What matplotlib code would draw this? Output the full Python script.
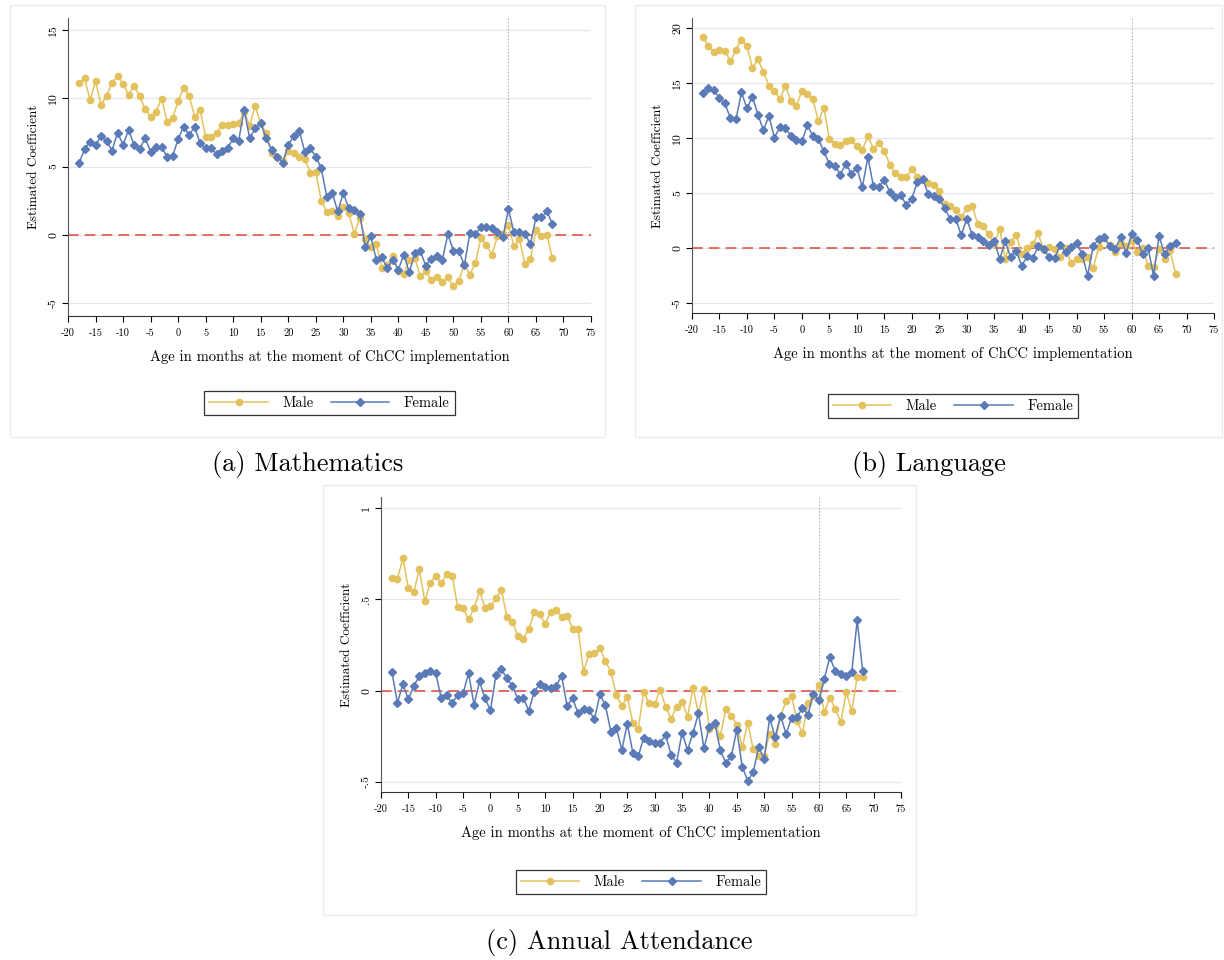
import matplotlib
matplotlib.use("Agg")
import matplotlib.pyplot as plt
from matplotlib.patches import Rectangle
from matplotlib.lines import Line2D

plt.rcParams['font.family'] = ['cmr10', 'DejaVu Serif']
plt.rcParams['axes.formatter.use_mathtext'] = True

# Data (age in months, -18 .. 68)
months = list(range(-18, 69))

math_male = [11.15, 11.46, 9.88, 11.24, 9.51, 10.17, 11.15, 11.63, 11.05, 10.27,
             10.93, 10.17, 9.24, 8.66, 9.02, 9.98, 8.29, 8.54, 9.78, 10.78,
             10.2, 8.66, 9.15, 7.15, 7.15, 7.44, 8.05, 8.02, 8.12, 8.17,
             9.0, 8.0, 9.44, 8.17, 7.44, 6.02, 5.73, 5.37, 6.15, 6.02,
             5.73, 5.56, 4.56, 4.59, 2.51, 1.66, 1.76, 1.39, 2.07, 1.63,
             0.07, 1.22, -0.3, -0.93, -0.66, -2.44, -2.2, -1.54, -2.68, -2.85,
             -1.83, -1.7, -3.05, -2.68, -3.29, -3.1, -3.49, -3.12, -3.78, -3.37,
             -2.15, -2.93, -2.07, -0.24, -0.78, -1.46, -0.12, 0.05, 0.73, -0.85,
             -0.32, -2.15, -1.78, 0.37, -0.07, -0.02, -1.71]
math_female = [5.24, 6.27, 6.83, 6.59, 7.2, 6.9, 6.17, 7.49, 6.59, 7.68,
               6.59, 6.27, 7.07, 6.1, 6.41, 6.41, 5.73, 5.78, 7.0, 7.93,
               7.32, 7.88, 6.71, 6.34, 6.34, 5.9, 6.17, 6.34, 7.07, 6.9,
               9.15, 7.07, 7.8, 8.17, 7.07, 6.22, 5.73, 5.29, 6.59, 7.2,
               7.63, 6.1, 6.34, 5.73, 4.88, 2.8, 3.05, 1.71, 3.05, 1.95,
               1.83, 1.54, -0.93, -0.12, -1.83, -1.66, -2.44, -1.83, -2.56, -1.46,
               -2.76, -1.34, -1.22, -2.27, -1.76, -1.59, -1.83, 0.05, -1.17, -1.22,
               -2.24, 0.12, 0.05, 0.54, 0.54, 0.49, 0.24, -0.17, 1.9, 0.17,
               0.17, 0.07, -0.68, 1.27, 1.27, 1.71, 0.78]

lang_male = [19.15, 18.38, 17.77, 18.02, 17.93, 16.95, 18.02, 18.93, 18.38, 16.34,
             17.16, 15.98, 14.76, 14.27, 13.54, 14.76, 13.35, 12.9, 14.27, 13.96,
             13.5, 11.52, 12.74, 9.94, 9.48, 9.33, 9.7, 9.85, 9.27, 8.93,
             10.15, 9.02, 9.54, 8.81, 7.59, 6.8, 6.43, 6.43, 7.2, 6.5,
             6.2, 5.9, 5.76, 5.2, 4.0, 3.79, 3.48, 2.79, 3.6, 3.85,
             2.18, 1.97, 1.27, 0.4, 1.73, -1.0, 0.58, 1.18, -0.55, 0.0,
             0.36, 1.33, -0.18, 0.06, -0.1, -0.85, 0.0, -1.39, -1.0, -1.0,
             -0.85, -1.85, 0.06, 0.88, 0.27, -0.4, 0.45, 0.15, 0.67, -0.4,
             0.0, -1.6, -1.76, -0.05, -1.0, -0.2, -2.36]
lang_female = [14.12, 14.51, 14.36, 13.6, 13.14, 11.77, 11.68, 14.15, 12.68, 13.75,
               12.13, 10.7, 12.01, 10.03, 11.0, 10.91, 10.18, 9.79, 9.7, 11.16,
               10.18, 9.88, 8.78, 7.65, 7.5, 6.68, 7.65, 6.74, 7.29, 5.52,
               8.26, 5.67, 5.52, 6.22, 5.06, 4.6, 4.82, 3.9, 4.5, 5.97,
               6.27, 4.9, 4.7, 4.5, 3.6, 2.64, 2.64, 1.18, 2.64, 1.18,
               0.97, 0.67, 0.27, 0.67, -1.0, 0.6, -0.85, -0.24, -1.6, -0.76,
               -0.94, 0.15, -0.1, -0.85, -0.94, 0.27, -0.4, 0.06, 0.45, -0.55,
               -2.5, 0.15, 0.82, 0.97, 0.2, -0.1, 0.97, -0.45, 1.27, 0.76,
               -0.55, 0.0, -2.5, 1.12, -0.55, 0.2, 0.45]

att_male = [0.615, 0.613, 0.724, 0.56, 0.54, 0.664, 0.49, 0.59, 0.63, 0.587,
            0.64, 0.63, 0.458, 0.45, 0.39, 0.45, 0.546, 0.454, 0.463, 0.505,
            0.55, 0.405, 0.378, 0.3, 0.285, 0.336, 0.43, 0.418, 0.367, 0.43,
            0.44, 0.405, 0.41, 0.34, 0.336, 0.104, 0.2, 0.204, 0.232, 0.162,
            0.1, -0.024, -0.084, -0.033, -0.175, -0.208, -0.007, -0.07, -0.075, 0.004,
            -0.088, -0.153, -0.088, -0.06, -0.142, 0.013, -0.124, 0.007, -0.208, -0.19,
            -0.246, -0.1, -0.14, -0.186, -0.308, -0.177, -0.32, -0.36, -0.356, -0.235,
            -0.29, -0.14, -0.058, -0.027, -0.168, -0.232, -0.068, -0.031, 0.03, -0.119,
            -0.04, -0.1, -0.172, -0.009, -0.113, 0.075, 0.075]
att_female = [0.1, -0.066, 0.035, -0.047, 0.026, 0.08, 0.095, 0.108, 0.095, -0.042,
              -0.024, -0.07, -0.024, -0.015, 0.095, -0.078, 0.05, -0.042, -0.108, 0.086,
              0.117, 0.068, 0.026, -0.044, -0.038, -0.111, -0.005, 0.035, 0.02, 0.016,
              0.026, 0.08, -0.084, -0.042, -0.124, -0.102, -0.108, -0.157, -0.02, -0.08,
              -0.226, -0.206, -0.325, -0.18, -0.34, -0.36, -0.257, -0.276, -0.288, -0.285,
              -0.245, -0.35, -0.394, -0.23, -0.325, -0.23, -0.124, -0.316, -0.197, -0.179,
              -0.327, -0.396, -0.36, -0.214, -0.418, -0.493, -0.447, -0.31, -0.374, -0.15,
              -0.254, -0.137, -0.237, -0.15, -0.144, -0.095, -0.131, -0.016, -0.053, 0.064,
              0.184, 0.106, 0.093, 0.082, 0.1, 0.385, 0.106]

xticks = list(range(-20, 80, 5))
math_yticks = [-5, 0, 5, 10, 15]
lang_yticks = [-5, 0, 5, 10, 15, 20]
att_yticks = [-0.5, 0, 0.5, 1]
att_ylabels = ['-.5', '0', '.5', '1']

YELLOW = '#E3C25E'
BLUE = '#5B7AB8'
RED = '#DC4A3E'

W, H = 1224, 960
fig = plt.figure(figsize=(W / 100, H / 100), dpi=100)


def fx(px):
    return px / W


def fy(py):
    return 1 - py / H


def panel(box, ax_box, ylim, yticks, ylabels, male, female, legend_y, caption, cap_y):
    # light frame around the whole graph region
    l, t, r, b = box
    fig.patches.append(Rectangle((fx(l), fy(b)), fx(r - l), (b - t) / H,
                                 transform=fig.transFigure, facecolor='none',
                                 edgecolor='#ececec', lw=1, zorder=-5))
    l, t, r, b = ax_box
    ax = fig.add_axes([fx(l), fy(b), fx(r - l), (b - t) / H])
    ax.patch.set_alpha(0)
    ax.set_xlim(-20, 75)
    ax.set_ylim(*ylim)
    for yv in yticks:
        ax.axhline(yv, color='#e6e6e6', lw=0.9, zorder=1)
    ax.axhline(0, color=RED, lw=1.1, ls=(0, (7, 4)), zorder=2)
    ax.axvline(60, color='#9a9a9a', lw=0.8, ls=(0, (1, 2)), zorder=2)
    ax.plot(months, male, color=YELLOW, lw=1.1, marker='o', ms=4.5, zorder=3)
    ax.plot(months, female, color=BLUE, lw=1.1, marker='D', ms=4.5, zorder=4)
    ax.spines['top'].set_visible(False)
    ax.spines['right'].set_visible(False)
    ax.spines['left'].set_color('#555555')
    ax.spines['bottom'].set_color('#333333')
    ax.set_xticks(xticks)
    ax.set_xticklabels([str(v) for v in xticks], fontsize=7.5)
    ax.set_yticks(yticks)
    ax.set_yticklabels(ylabels, fontsize=8.5, rotation=90, va='center')
    ax.tick_params(length=4, width=0.8, pad=5)
    ax.tick_params(axis='y', pad=3)
    cx = (l + r) / 2
    fig.text(fx(cx), fy(b + 41), 'Age in months at the moment of ChCC implementation',
             ha='center', va='center', fontsize=10.5)
    fig.text(fx(l - 34), fy((t + b) / 2), 'Estimated Coefficient', rotation=90,
             ha='center', va='center', fontsize=9.5)
    handles = [Line2D([], [], color=YELLOW, lw=1.1, marker='o', ms=4.5),
               Line2D([], [], color=BLUE, lw=1.1, marker='D', ms=4.5)]
    leg = fig.legend(handles, ['Male', 'Female'], loc='center', ncol=2,
                     bbox_to_anchor=(fx(cx), fy(legend_y)), fontsize=10.5,
                     handlelength=4.0, columnspacing=1.2, handletextpad=1.0,
                     borderpad=0.35, fancybox=False, edgecolor='#333333',
                     framealpha=1)
    leg.get_frame().set_linewidth(0.9)
    fig.text(fx((box[0] + box[2]) / 2), fy(cap_y), caption, ha='center',
             va='center', fontsize=19)
    return ax


panel((10, 5, 605, 437), (68, 18, 591, 316), (-5.95, 15.88), math_yticks,
      [str(v) for v in math_yticks], math_male, math_female, 403,
      '(a) Mathematics', 465)
panel((635, 5, 1222, 437), (692, 18, 1214, 313), (-5.9, 20.9), lang_yticks,
      [str(v) for v in lang_yticks], lang_male, lang_female, 406,
      '(b) Language', 465)
panel((323, 485, 916, 915), (381, 497, 901, 792), (-0.555, 1.06), att_yticks,
      att_ylabels, att_male, att_female, 882,
      '(c) Annual Attendance', 943)

fig.savefig('out.png', dpi=100)
